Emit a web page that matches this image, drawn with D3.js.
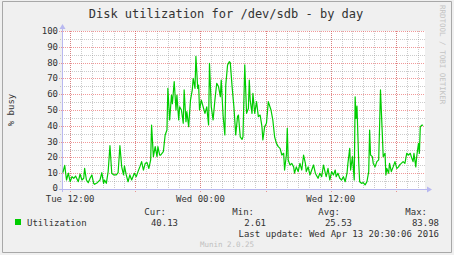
<!DOCTYPE html>
<html>
<head>
<meta charset="utf-8">
<script src="https://cdn.jsdelivr.net/npm/d3@7"></script>
<style>
  body { margin: 0; background: #fff; }
  svg { display: block; font-family: "DejaVu Sans Mono", monospace; }
  .crisp line, .crisp path { shape-rendering: crispEdges; }
</style>
</head>
<body>
<svg width="454" height="255"></svg>
<script>
// readings, [time, % busy]
const tuesday = [
  ["11:20",10.3],["11:30",15],["11:40",5.7],["11:50",10],["12:00",4.6],["12:10",7.8],["12:20",6.8],["12:30",8.2],
  ["12:45",4.6],["12:55",9.5],["13:05",5.7],["13:15",6.8],["13:20",13],["13:30",5.7],["13:40",4],["13:50",6.8],
  ["14:00",8.9],["14:10",3.6],["14:15",3],["14:30",4],["14:45",5.7],["14:55",10.3],["15:05",3.6],["15:10",5.7],
  ["15:20",3.6],["15:30",11],["15:40",27.4],["15:50",10],["16:00",8.9],["16:15",8.9],["16:25",10.3],["16:35",27.4],
  ["16:45",14],["16:55",8.9],["17:00",14.6],["17:10",8.9],["17:20",4.6],["17:30",8.9],["17:40",5.7],["17:55",10],
  ["18:05",7.8],["18:15",11],["18:25",14],["18:35",17.3],["18:45",12],["18:55",16.2],["19:05",16.7],["19:15",13],
  ["19:25",18.4],["19:30",40.5],["19:40",20.5],["19:50",26.8],["20:00",20.5],["20:05",26.8],["20:15",21.5],["20:20",21.5],
  ["20:35",23.6],["20:45",34.2],["20:55",37.3],["21:00",63.7],["21:10",43.7],["21:20",59.5],["21:25",54],["21:35",68],
  ["21:45",50],["21:50",59.5],["22:00",43.7],["22:05",52],["22:15",50],["22:25",41.6],["22:30",62.7],["22:40",42.6],
  ["22:45",49],["22:55",39.5],["23:05",56.3],["23:15",62.7],["23:20",70],["23:30",63.7],["23:35",83.98],["23:45",63.7],
  ["23:50",65.8],["23:55",50]
];
const wednesday = [
  ["00:05",56.3],["00:15",52],["00:25",47.9],["00:35",52],["00:45",40.5],["00:50",79.5],["01:00",52],["01:10",43.7],
  ["01:20",56.3],["01:30",66.9],["01:40",64.8],["01:50",58.4],["01:55",69],["02:05",46.8],["02:15",34.2],["02:20",65.8],
  ["02:30",78.5],["02:40",80.6],["02:45",80],["02:55",64.8],["03:05",52],["03:15",34.2],["03:25",45.8],["03:30",46.8],
  ["03:40",33],["03:50",31.4],["03:55",33],["04:05",78.5],["04:15",47.9],["04:25",51],["04:30",69],["04:35",56.3],
  ["04:45",47.9],["04:50",60.5],["05:00",47.9],["05:10",55.3],["05:20",45.8],["05:30",46.8],["05:40",39.5],["05:45",31],
  ["05:55",39.5],["06:05",41.6],["06:15",55.3],["06:30",50],["06:40",43.7],["06:50",33],["07:00",28.9],["07:10",26.8],
  ["07:20",25.7],["07:30",21.5],["07:40",22.6],["07:45",12],["07:55",21.5],["08:00",38.4],["08:05",18.4],["08:15",15.2],
  ["08:25",16.2],["08:35",14],["08:40",10],["08:50",14],["09:00",11],["09:10",16.2],["09:20",12],["09:30",21.5],
  ["09:40",16.2],["09:45",11],["09:55",14],["10:05",8.9],["10:15",12],["10:25",15.2],["10:35",10],["10:40",8.9],
  ["10:50",6.8],["11:00",10],["11:10",7.8],["11:20",15.2],["11:30",10],["11:35",7.8],["11:45",13],["11:55",5.7],
  ["12:05",11],["12:15",8.9],["12:25",12],["12:30",7.8],["12:40",10],["12:50",6.8],["13:00",5.7],["13:10",7.8],
  ["13:20",4.6],["13:30",10],["13:35",16.2],["13:45",25.7],["13:50",12],["14:00",20.5],["14:10",5.7],["14:15",58.4],
  ["14:20",44.7],["14:25",52.5],["14:35",16.2],["14:40",4.6],["14:50",3.6],["15:00",4],["15:10",2.61],["15:20",4.6],
  ["15:30",11],["15:35",37.3],["15:40",21.5],["15:50",20.5],["15:55",16.2],["16:05",14],["16:15",17.3],["16:25",18.4],
  ["16:30",39.5],["16:35",62.7],["16:45",35.2],["16:50",20.5],["17:00",22.6],["17:05",8.9],["17:10",13],["17:20",10],
  ["17:25",16.2],["17:35",11],["17:45",14],["17:55",17.3],["18:05",13],["18:15",14],["18:20",15.2],["18:30",16.2],
  ["18:40",17.3],["18:50",16.2],["19:00",22.6],["19:10",21.5],["19:20",22.6],["19:25",20.5],["19:35",17.3],["19:40",22.6],
  ["19:50",14],["19:55",20.5],["20:05",28.9],["20:10",22.6],["20:15",39.5],["20:25",40.5],["20:30",40.13]
];

const yTicks = [0, 10, 20, 30, 40, 50, 60, 70, 80, 90, 100];
const statLabels = ["Cur:", "Min:", "Avg:", "Max:"];
const statValues = ["40.13", "2.61", "25.53", "83.98"];
const seriesName = "Utilization";

const parse = d3.utcParse("%Y-%m-%d %H:%M");
const data = tuesday.map(d => ({ t: parse("2016-04-12 " + d[0]), v: d[1] }))
  .concat(wednesday.map(d => ({ t: parse("2016-04-13 " + d[0]), v: d[1] })));

const start = parse("2016-04-12 11:15");
const end = parse("2016-04-13 20:41");

const plotL = 62, plotR = 425, plotT = 31, plotB = 189;
const x = d3.scaleUtc().domain([start, end]).range([plotL, plotR]);
const y = d3.scaleLinear().domain([0, 100]).range([plotB, plotT]);

const svg = d3.select("svg");

// frame
svg.append("rect").attr("x", 0).attr("y", 0).attr("width", 454).attr("height", 255).attr("fill", "#f0f0f0");
svg.append("path").attr("class", "crisp")
  .attr("d", "M2.5,252.5V1.5H451.5V252.5Z")
  .attr("fill", "none").attr("stroke", "#a8a8a8");

svg.append("rect").attr("x", plotL).attr("y", plotT).attr("width", plotR - plotL).attr("height", plotB - plotT).attr("fill", "#fff");

// grid: minor first, then major on top
const grid = svg.append("g").attr("class", "crisp");
const minorColor = "rgba(140,140,140,0.45)", majorColor = "rgba(230,70,70,0.55)";

grid.selectAll(".vmin").data(x.ticks(d3.utcHour.every(1))).join("line")
  .attr("x1", d => Math.round(x(d)) + 0.5).attr("x2", d => Math.round(x(d)) + 0.5)
  .attr("y1", plotT).attr("y2", plotB + 2)
  .attr("stroke", minorColor).attr("stroke-dasharray", "1,1");
grid.selectAll(".hmin").data(d3.range(5, 100, 10)).join("line")
  .attr("x1", plotL - 2).attr("x2", plotR)
  .attr("y1", d => Math.round(y(d)) + 0.5).attr("y2", d => Math.round(y(d)) + 0.5)
  .attr("stroke", minorColor).attr("stroke-dasharray", "1,1");
grid.selectAll(".vmaj").data(x.ticks(d3.utcHour.every(6))).join("line")
  .attr("x1", d => Math.round(x(d)) + 0.5).attr("x2", d => Math.round(x(d)) + 0.5)
  .attr("y1", plotT).attr("y2", plotB + 3)
  .attr("stroke", majorColor).attr("stroke-dasharray", "1,1");
grid.selectAll(".hmaj").data(yTicks.slice(1)).join("line")
  .attr("x1", plotL - 3).attr("x2", plotR)
  .attr("y1", d => Math.round(y(d)) + 0.5).attr("y2", d => Math.round(y(d)) + 0.5)
  .attr("stroke", majorColor).attr("stroke-dasharray", "1,1");

// axes with arrow heads
const axisColor = "#b8b8f0";
svg.append("line").attr("class", "crisp").attr("x1", plotL - 3).attr("x2", plotR + 3)
  .attr("y1", plotB + 0.5).attr("y2", plotB + 0.5).attr("stroke", axisColor);
svg.append("path").attr("d", `M${plotR + 2},${plotB - 2.5}L${plotR + 7},${plotB + 0.5}L${plotR + 2},${plotB + 3.5}Z`).attr("fill", axisColor);
svg.append("line").attr("class", "crisp").attr("x1", plotL + 0.5).attr("x2", plotL + 0.5)
  .attr("y1", plotB + 3).attr("y2", plotT - 3).attr("stroke", axisColor);
svg.append("path").attr("d", `M${plotL - 2.5},${plotT - 2}L${plotL + 0.5},${plotT - 7}L${plotL + 3.5},${plotT - 2}Z`).attr("fill", axisColor);

// tick labels
const textColor = "#333";
svg.append("g").selectAll("text").data(yTicks).join("text")
  .attr("x", plotL - 4).attr("y", d => y(d) + (d === 0 ? 2 : 3))
  .attr("text-anchor", "end").attr("font-size", 9).attr("fill", textColor)
  .text(d => d);

const fmt = d3.utcFormat("%a %H:%M");
svg.append("g").selectAll("text").data(x.ticks(d3.utcHour.every(12))).join("text")
  .attr("x", d => x(d)).attr("y", plotB + 12.5)
  .attr("text-anchor", "middle").attr("font-size", 9).attr("fill", textColor)
  .text(d => fmt(d));

// the series
const line = d3.line().x(d => x(d.t)).y(d => y(d.v));
svg.append("path").datum(data).attr("d", line)
  .attr("fill", "none").attr("stroke", "#00cc00").attr("stroke-width", 1.2).attr("stroke-linejoin", "round");

// titles
svg.append("text").attr("x", 226).attr("y", 18).attr("text-anchor", "middle")
  .attr("font-size", 12).attr("fill", textColor).text("Disk utilization for /dev/sdb - by day");
svg.append("text").attr("transform", "translate(14,110) rotate(-90)").attr("text-anchor", "middle")
  .attr("font-size", 9).attr("fill", textColor).text("% busy");
svg.append("text").attr("transform", "translate(440,5) rotate(90)").attr("text-anchor", "start")
  .attr("font-size", 7.5).attr("fill", "#c4c4c4").text("RRDTOOL / TOBI OETIKER");

// legend
svg.append("rect").attr("x", 15).attr("y", 219).attr("width", 6).attr("height", 6).attr("fill", "#00cc00");
svg.append("text").attr("x", 27).attr("y", 226).attr("font-size", 9).attr("fill", textColor).text(seriesName);
const labelRight = [166, 254, 340, 427], valueRight = [178, 266, 352, 439];
svg.append("g").selectAll("text").data(statLabels).join("text")
  .attr("x", (d, i) => labelRight[i]).attr("y", 215).attr("text-anchor", "end")
  .attr("font-size", 9).attr("fill", textColor).text(d => d);
svg.append("g").selectAll("text").data(statValues).join("text")
  .attr("x", (d, i) => valueRight[i]).attr("y", 226).attr("text-anchor", "end")
  .attr("font-size", 9).attr("fill", textColor).text(d => d);
svg.append("text").attr("x", 439).attr("y", 237).attr("text-anchor", "end")
  .attr("font-size", 9).attr("fill", textColor).text("Last update: Wed Apr 13 20:30:06 2016");
svg.append("text").attr("x", 227).attr("y", 247).attr("text-anchor", "middle")
  .attr("font-size", 7.5).attr("fill", "#c0c0c0").text("Munin 2.0.25");
</script>
</body>
</html>
